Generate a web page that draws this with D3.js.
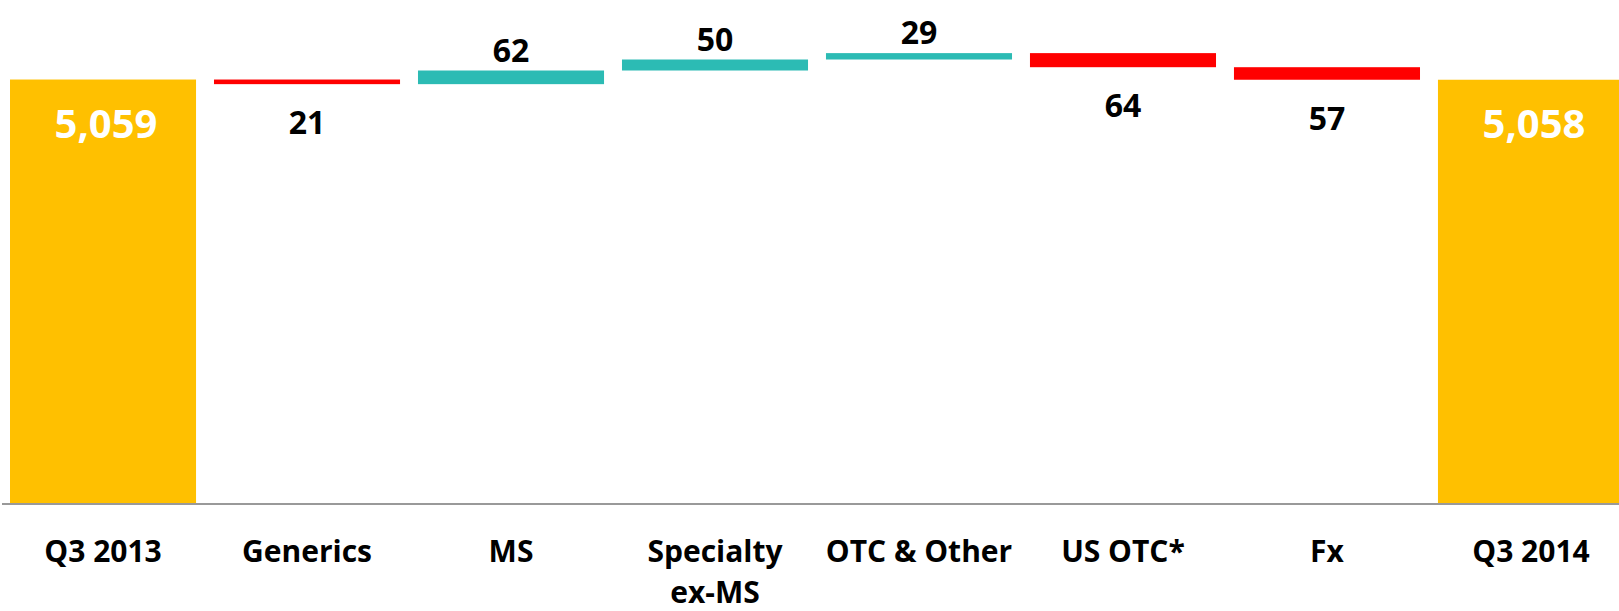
<!DOCTYPE html>
<html>
<head>
<meta charset="utf-8">
<script src="https://cdn.jsdelivr.net/npm/d3@7"></script>
<style>
  body { margin: 0; background: #fff; }
  svg { display: block; }
  text { font-family: "Open Sans", "Noto Sans", sans-serif; font-weight: 700; }
</style>
</head>
<body>
<svg width="1619" height="611"></svg>
<script>
// chart values
const categories = ["Q3 2013", "Generics", "MS", "Specialty ex-MS", "OTC & Other", "US OTC*", "Fx", "Q3 2014"];
const tickLabels = [["Q3 2013"], ["Generics"], ["MS"], ["Specialty", "ex-MS"], ["OTC & Other"], ["US OTC*"], ["Fx"], ["Q3 2014"]];
const startValue = 5059;
const deltas = [-21, 62, 50, 29, -64, -57];
const endValue = 5058;

const svg = d3.select("svg");
const width = 1619, axisY = 504;

// build waterfall rows
let rows = [];
rows.push({cat: categories[0], lo: 0, hi: startValue, kind: "total", label: d3.format(",")(startValue)});
let running = startValue;
for (let i = 0; i < deltas.length; i++) {
    let next = running + deltas[i];
    rows.push({cat: categories[i + 1], lo: Math.min(running, next), hi: Math.max(running, next),
               kind: deltas[i] >= 0 ? "up" : "down", label: Math.abs(deltas[i])});
    running = next;
}
rows.push({cat: categories[7], lo: 0, hi: endValue, kind: "total", label: d3.format(",")(endValue)});

const color = {total: "#FFC000", up: "#2CBBB4", down: "#FF0000"};

let x = d3.scaleBand()
    .domain(categories)
    .range([10, 1624])
    .paddingInner(0.088)
    .paddingOuter(0);

// axis does not start at zero in the original
let y = d3.scaleLinear()
    .domain([3130, 5200])
    .range([axisY, 48.5]);

svg.selectAll(".bar")
    .data(rows)
    .enter()
    .append("rect")
    .attr("class", "bar")
    .attr("x", d => x(d.cat))
    .attr("width", x.bandwidth())
    .attr("y", d => y(d.hi))
    .attr("height", d => y(Math.max(d.lo, y.domain()[0])) - y(d.hi))
    .attr("fill", d => color[d.kind]);

// value labels
svg.selectAll(".val")
    .data(rows)
    .enter()
    .append("text")
    .attr("class", "val")
    .attr("text-anchor", "middle")
    .attr("x", d => x(d.cat) + x.bandwidth() / 2 + (d.kind === "total" ? 3 : 0))
    .attr("y", function(d) {
        if (d.kind === "total") return y(d.hi) + 58;
        if (d.kind === "up") return y(d.hi) - 9;
        return y(d.lo) + 50;
    })
    .attr("font-size", d => d.kind === "total" ? "40px" : "32px")
    .attr("fill", d => d.kind === "total" ? "#fff" : "#000")
    .text(d => d.label);

// x axis
let xAxis = svg.append("g")
    .attr("transform", `translate(0, ${axisY})`)
    .call(d3.axisBottom(x).tickSize(0).tickFormat(""));
xAxis.select(".domain").remove();
xAxis.append("line")
    .attr("x1", 2).attr("x2", width)
    .attr("y1", 0).attr("y2", 0)
    .attr("stroke", "#999")
    .attr("stroke-width", 2);

xAxis.selectAll(".tick").each(function(d, i) {
    let t = d3.select(this).append("text")
        .attr("text-anchor", "middle")
        .attr("font-size", "30px")
        .attr("fill", "#000");
    tickLabels[i].forEach((line, j) => {
        t.append("tspan").attr("x", 0).attr("y", 58 + j * 41).text(line);
    });
});
</script>
</body>
</html>
